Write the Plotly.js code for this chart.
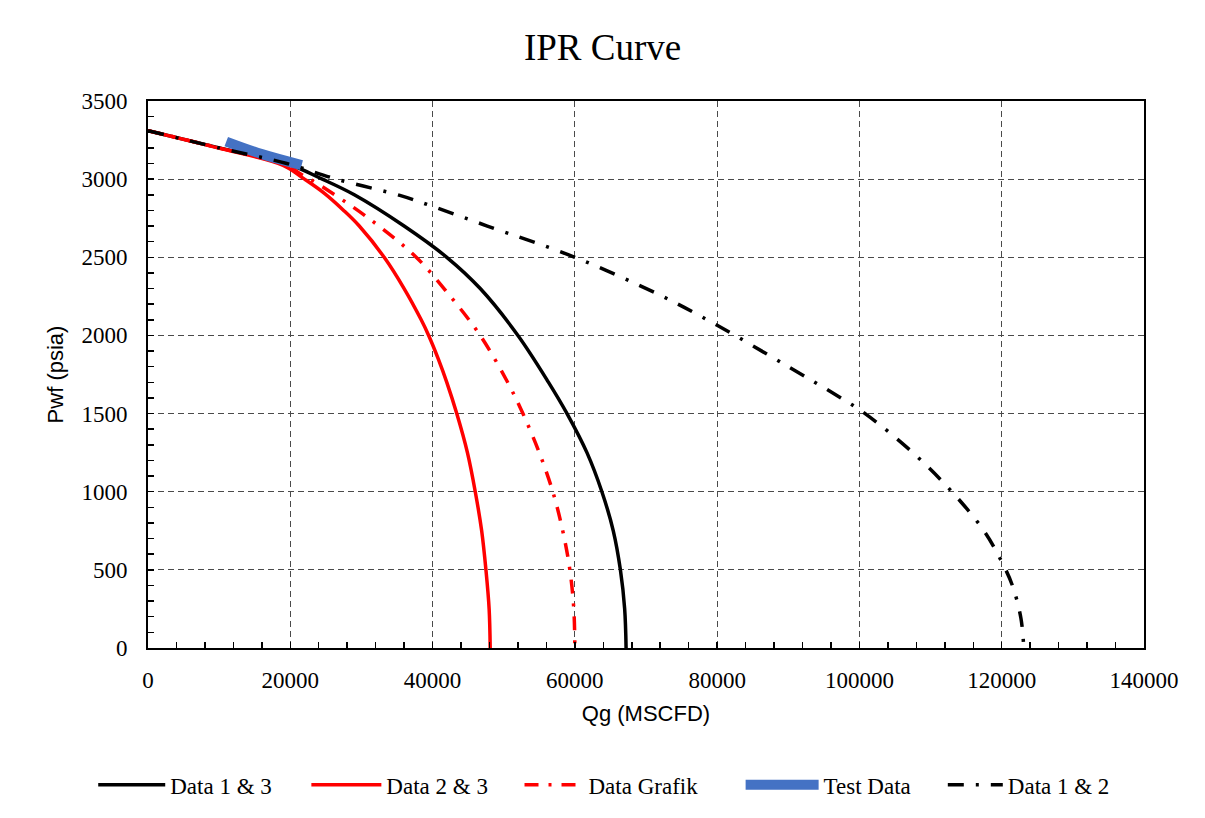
<!DOCTYPE html>
<html>
<head>
<meta charset="utf-8">
<script src="https://cdn.plot.ly/plotly-3.0.1.min.js"></script>
<style>
html,body{margin:0;padding:0;background:#fff;}
#chart{width:1205px;height:818px;}
</style>
</head>
<body>
<div id="chart"></div>
<script>
// Data 1 & 3 (black solid)
const q13 = [0, 10000, 19500, 24500, 29000, 36000, 42000, 46700, 52000, 56300, 58900, 61700, 63800, 65400, 66400, 67000, 67200];
const p13 = [3310, 3200, 3100, 3000, 2900, 2700, 2500, 2300, 2000, 1700, 1500, 1250, 1000, 750, 500, 250, 0];
// Data 2 & 3 (red solid)
const q23 = [0, 9800, 19000, 22000, 24800, 27500, 29700, 33200, 36000, 38400, 39450, 40800, 42000, 43400, 44900, 46000, 46900, 47500, 47950, 48100];
const p23 = [3310, 3200, 3088, 3000, 2909, 2800, 2700, 2500, 2300, 2100, 2000, 1850, 1700, 1500, 1250, 1000, 750, 500, 250, 0];
// Data Grafik (red dash-dot)
const qGr = [0, 10000, 19500, 21400, 24200, 31000, 37700, 42500, 46700, 50400, 52700, 55000, 56900, 58300, 59300, 59850, 60000];
const pGr = [3310, 3200, 3088, 3035, 2960, 2750, 2500, 2250, 2000, 1713, 1500, 1250, 1000, 750, 500, 250, 0];
// Test Data (blue)
const qTest = [11000, 16000, 21600];
const pTest = [3240, 3160, 3090];
// Data 1 & 2 (black dash-dot)
const q12 = [0, 10000, 19500, 26500, 35400, 39600, 47700, 60000, 72000, 80000, 90000, 97000, 100800, 107500, 113000, 117500, 120000, 121500, 122700, 123100];
const p12 = [3310, 3200, 3100, 3000, 2896, 2832, 2700, 2500, 2257, 2065, 1800, 1611, 1500, 1250, 1000, 750, 552, 400, 190, 0];

const serif = "Liberation Serif, Times New Roman, serif";
const sans = "Liberation Sans, Arial, sans-serif";

const traces = [
  {x: q13, y: p13, name: "Data 1 & 3", legend: "legend", mode: "lines", line: {color: "#000000", width: 3.5, shape: "spline", smoothing: 1}},
  {x: q23, y: p23, name: "Data 2 & 3", legend: "legend2", mode: "lines", line: {color: "#ff0000", width: 3.5, shape: "spline", smoothing: 1}},
  {x: qGr, y: pGr, name: "Data Grafik", legend: "legend3", mode: "lines", line: {color: "#ff0000", width: 3.5, dash: "14px,10px,3px,10px", shape: "spline", smoothing: 1}},
  {x: qTest, y: pTest, name: "Test Data", legend: "legend4", mode: "lines", line: {color: "#4472c4", width: 10, shape: "spline"}},
  {x: q12, y: p12, name: "Data 1 & 2", legend: "legend5", mode: "lines", line: {color: "#000000", width: 3.5, dash: "16px,12px,3px,12px", shape: "spline", smoothing: 1}}
];

const legY = -0.25;
function leg(x, w) {
  return {orientation: "h", x: x, xanchor: "left", y: legY, yanchor: "middle",
          font: {family: serif, size: 23, color: "#000"}, itemwidth: w, bgcolor: "rgba(0,0,0,0)"};
}

const axisCommon = {
  showgrid: true, gridcolor: "#4a4a4a", griddash: "6px,4px", gridwidth: 1,
  zeroline: false, showline: true, linecolor: "#000", linewidth: 2, mirror: true,
  ticks: "inside", ticklen: 6, tickcolor: "#000", tickwidth: 1.5,
  tickfont: {family: serif, size: 23, color: "#000"}, tickformat: "d"
};

const layout = {
  width: 1205, height: 818,
  margin: {l: 148, r: 61, t: 101, b: 170},
  paper_bgcolor: "#ffffff", plot_bgcolor: "#ffffff",
  title: {text: "IPR Curve", font: {family: serif, size: 37, color: "#000"}, x: 0.5, xanchor: "center", y: 0.942, yanchor: "middle"},
  showlegend: true,
  legend: leg(-0.055, 67),
  legend2: leg(0.159, 70),
  legend3: leg(0.373, 59),
  legend4: leg(0.595, 73),
  legend5: leg(0.798, 55),
  xaxis: Object.assign({}, axisCommon, {
    range: [0, 140000], dtick: 20000, ticklabelstandoff: 10,
    minor: {dtick: 4000, ticks: "inside", ticklen: 6, tickcolor: "#000", tickwidth: 1.5, showgrid: false},
    title: {text: "Qg (MSCFD)", font: {family: sans, size: 22, color: "#000"}, standoff: 14}}),
  yaxis: Object.assign({}, axisCommon, {
    range: [0, 3500], dtick: 500, ticklabelstandoff: 14,
    minor: {dtick: 100, ticks: "inside", ticklen: 6, tickcolor: "#000", tickwidth: 1.5, showgrid: false},
    title: {text: "Pwf (psia)", font: {family: sans, size: 22, color: "#000"}, standoff: 12}})
};

Plotly.newPlot("chart", traces, layout, {displayModeBar: false, staticPlot: true});
</script>
</body>
</html>
